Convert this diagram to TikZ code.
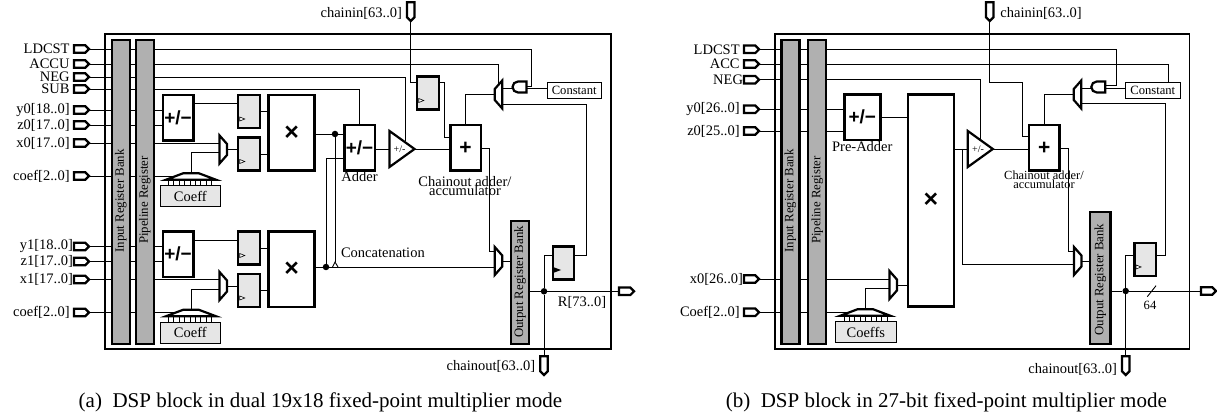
\documentclass[tikz,border=0pt]{standalone}
\usepackage{fontspec}
\setmainfont{Liberation Serif}
\setsansfont{Liberation Sans}
\usetikzlibrary{positioning, calc, shapes.geometric, shapes.symbols, shapes.misc}
\definecolor{bankgray}{HTML}{B0B0B0}
\definecolor{reggray}{HTML}{E6E6E6}
\tikzset{
  every node/.style={outer sep=0pt, inner sep=0pt},
  frameline/.style={draw, line width=1.5pt},
  wire/.style={line width=0.9pt},
  txt/.style={font=\fontsize{14.5}{14.5}\selectfont},
  port/.style={signal, signal to=east, signal from=nowhere, draw, line width=2.2pt, fill=white, minimum width=15pt, minimum height=7.5pt, anchor=east},
  portdown/.style={signal, signal to=south, signal from=nowhere, draw, line width=2.2pt, fill=white, minimum width=7.5pt, minimum height=15pt, anchor=south},
  bank/.style={draw, line width=2.4pt, fill=bankgray, minimum width=18pt},
  banktext/.style={font=\fontsize{12.8}{12.8}\selectfont, rotate=90},
  regbox/.style={draw, line width=2.2pt, fill=reggray, minimum width=21.5pt, minimum height=33pt},
  clkmark/.style={isosceles triangle, isosceles triangle stretches, inner sep=0.1pt, draw, line width=0.6pt, fill=white, minimum width=4pt, minimum height=5pt, anchor=west},
  opbox/.style={draw, line width=2.5pt, fill=white, font=\sffamily\bfseries\fontsize{19}{19}\selectfont, minimum width=30.5pt, minimum height=45.5pt},
  multbox/.style={draw, line width=2.5pt, fill=white, font=\sffamily\bfseries\fontsize{25}{25}\selectfont, minimum width=46pt},
  mux/.style={trapezium, trapezium stretches=true, inner sep=0.1pt, draw, line width=2.2pt, fill=white, trapezium left angle=52, trapezium right angle=52, minimum width=28pt, minimum height=7.5pt},
  rommark/.style={trapezium, trapezium stretches=true, inner sep=0.1pt, draw, line width=2.2pt, fill=white, trapezium left angle=42, trapezium right angle=42, minimum width=50pt, minimum height=6.5pt},
  coefbox/.style={txt, draw, line width=0.8pt, fill=reggray, minimum width=60.5pt, minimum height=21pt},
  constbox/.style={draw, line width=0.8pt, fill=white, font=\fontsize{12.6}{12.6}\selectfont, minimum width=54.5pt, minimum height=15.5pt},
  gatebox/.style={rounded rectangle, rounded rectangle right arc=none, draw, line width=2.2pt, fill=white, minimum width=14pt, minimum height=11pt},
  ampbox/.style={isosceles triangle, isosceles triangle stretches, inner sep=0.1pt, draw, line width=2.2pt, fill=white, minimum width=36pt, minimum height=25pt, anchor=apex},
  dot/.style={circle, fill=black, minimum size=6.5pt},
  captiontext/.style={font=\fontsize{21}{21}\selectfont}
}
\begin{document}
\begin{tikzpicture}[x=1pt, y=-1pt]
    \useasboundingbox (0,0) rectangle (1217,419);

    % Left block: outer frame
    \node[frameline, minimum width=506pt, minimum height=315pt] (framea) at (358,191.5) {};

    % Input pins with their labels
    \foreach \pname/\ypos/\ptext/\pgap in {ldcst/49/LDCST/4.4, accu/64/ACCU/4.4, neg/77/NEG/4.4, sub/89/SUB/4.4, yint/110/y0[18..0]/4.4, zint/125/z0[17..0]/4.4, xint/143/x0[17..0]/4.4, cft/176/coef[2..0]/4.4, yinl/246.5/y1[18..0]/1, zinl/261.5/z1[17..0]/1, xinl/279.5/x1[17..0]/1, cfl/312.5/coef[2..0]/4.4}
        \node[port] (\pname) at (89,\ypos) {} node[txt, left=\pgap pt of \pname] (\pname-lbl) {\ptext};

    % Multiplier slices
    \foreach \s/\dy in {t/0, l/136.5} {
        \node[opbox] (preadd\s) at (178,117.7+\dy) {+/−};
        \node[regbox] (regu\s) at (249,111.5+\dy) {};
        \node[regbox] (regd\s) at (249,154+\dy) {};
        \node[clkmark] (clku\s) at ($(regu\s.south west)+(1.5,-9)$) {};
        \node[clkmark] (clkd\s) at ($(regd\s.south west)+(1.5,-9)$) {};
        \node[multbox, minimum height=75.5pt] (mult\s) at (291.7,133+\dy) {×};
        \node[mux, shape border rotate=270] (mux\s) at (223.3,149.5+\dy) {};
        \node[coefbox] (coef\s) at (190.3,196+\dy) {Coeff};
        \node[rommark] (rom\s) at (191,176.5+\dy) {};
        \foreach \tk in {0,...,8}
            \draw[line width=0.6pt] ($(coef\s.north west)+(8.3+5.4*\tk,0)$) -- ++(0,-5);
        % Slice wiring
        \coordinate (regin\s) at ($(regu\s.west)+(0,-7.8)$);
        \draw[wire] (yin\s.east) -- (yin\s.east -| preadd\s.west);
        \draw[wire] (zin\s.east) -- (zin\s.east -| preadd\s.west);
        \draw[wire] (xin\s.east) -- (xin\s.east -| mux\s.west);
        \draw[wire] (cf\s.east) -- (cf\s.east -| rom\s.west);
        \draw[wire] (rom\s.north) |- ($(mux\s.west)+(0,3.2)$);
        \draw[wire] (preadd\s.east |- regin\s) -- (regin\s);
        \draw[wire] (mux\s.east) -- (mux\s.east -| regd\s.west);
        \draw[wire] (regu\s.east) -- (regu\s.east -| mult\s.west);
        \draw[wire] (regd\s.east) -- (regd\s.east -| mult\s.west);
    }

    % Adder, amplifier and chain adder
    \node[opbox] (adder) at (359.5,148) {+/−};
    \node[txt, below=1pt of adder] (adder-lbl) {Adder};
    \node[ampbox] (amp) at (414.5,149) {};
    \node[font=\fontsize{10}{10}\selectfont] (amp-lbl) at (399.5,149) {+/-};
    \node[opbox, font=\sffamily\bfseries\fontsize{21}{21}\selectfont] (plus) at (465.5,148) {+};
    \node[txt] (plus-lbl) at (465,181.7) {Chainout adder/};
    \node[txt] (plus-lbl2) at (465,190.7) {accumulator};
    \node[regbox] (chainreg) at (428,93) {};
    \node[clkmark] (clkc) at ($(chainreg.south west)+(1.5,-9)$) {};
    \node[mux, shape border rotate=90] (ctlmux) at (498.5,94.5) {};
    \node[gatebox] (andgate) at (519.5,87) {};
    \node[constbox] (const) at (574.2,90.5) {Constant};
    \node[mux, shape border rotate=270] (outmux) at (498.5,261) {};
    \node[bank, minimum height=123pt] (outbank) at (520,282.5) {};
    \node[banktext] (outbank-lbl) at (520,282) {Output Register Bank};
    \node[regbox] (fbreg) at (563.5,263) {};
    \node[isosceles triangle, isosceles triangle stretches, inner sep=0.1pt, fill=black, minimum width=6pt, minimum height=8pt, anchor=west] (clkf) at (553,270) {};
    \node[port] (rout) at (634,291.3) {};
    \node[txt] (rout-lbl) at (582,302) {R[73..0]};
    \node[portdown] (chainin) at (410.7,21) {};
    \node[txt, left=5pt of chainin, yshift=-4pt] (chainin-lbl) {chainin[63..0]};
    \node[portdown] (chainout) at (544,375) {};
    \node[txt, left=5pt of chainout, yshift=-3pt] (chainout-lbl) {chainout[63..0]};
    \node[txt, anchor=west] (concat-lbl) at (341,253) {Concatenation};
    \node[dot] (dota) at (335,134) {};
    \node[dot] (dotb) at (326,267) {};
    \node[dot] (dotr) at (544,291.3) {};

    % Control lines
    \coordinate (ldturn) at (531.7,86);
    \coordinate (negin) at (405,141);
    \coordinate (gatein) at (527,88.7);
    \draw[wire] (ldcst.east) -| (ldturn) -- (ldturn -| andgate.east);
    \draw[wire] (accu.east) -| (ctlmux.north);
    \draw[wire] (neg.east) -| (negin);
    \draw[wire] (sub.east) -| (adder.north);
    \draw[wire] (const.west |- gatein) -- (gatein);
    \draw[wire] (andgate.west |- gatein) -- (gatein -| ctlmux.east);

    % Data path
    \coordinate (addin) at (344,158.3);
    \coordinate (hop) at (335,262);
    \coordinate (chainin-turn) at (416.7,82.7);
    \coordinate (chain-drop) at (444,137.3);
    \coordinate (sumturn) at (489.3,251.7);
    \coordinate (fbin) at (552,255);
    \coordinate (fbturn) at (586,104);
    \draw[wire] (multt.east |- dota) -- (dota) -- (dota -| adder.west);
    \draw[wire] (multl.east |- dotb) -- (dotb) -- (dotb -| outmux.west);
    \draw[wire] (dotb) |- (addin);
    \draw[wire] (dota) -- (hop);
    \draw[wire] (332.5,267) -- (hop) -- (338,267);
    \draw[wire] (amp.west -| adder.east) -- (amp.west);
    \draw[wire] (amp.apex) -- (amp.apex -| plus.west);
    \draw[wire] (chainin.south) |- (chainin-turn);
    \draw[wire] (chainin-turn -| chainreg.east) -| (chain-drop) -- (chain-drop -| plus.west);
    \draw[wire] (plus.north) |- (ctlmux.west);
    \draw[wire] (plus.east) -| (sumturn) -- (sumturn -| outmux.west);
    \draw[wire] (outmux.east) -- (outmux.east -| outbank.west);
    \draw[wire] (outbank.east |- dotr) -- (dotr) -- (rout.west);
    \draw[wire] (dotr) -- (chainout.north);
    \draw[wire] (dotr) |- (fbin);
    \draw[wire] (fbin -| fbreg.east) -| (fbturn) -- (fbturn -| ctlmux.east);

    % Register banks go on top of the wires
    \node[bank, minimum height=304pt] (inbank) at (120.7,192) {};
    \node[bank, minimum height=304pt] (pipebank) at (144.7,192) {};
    \node[banktext] (inbank-lbl) at (120.7,201) {Input Register Bank};
    \node[banktext] (pipebank-lbl) at (144.7,200) {Pipeline Register};
    \node[captiontext] (caption-a) at (320.5,402) {(a)\enspace DSP block in dual 19x18 fixed-point multiplier mode};

    % Right block: outer frame
    \node[frameline, minimum width=414.3pt, minimum height=315pt] (frameb) at (982.2,191.5) {};

    % Input pins with their labels
    \foreach \pname/\ypos/\ptext/\pgap in {bldcst/49.3/LDCST/4.4, bacc/64/ACC/4.4, bneg/79.7/NEG/1, byin/109.3/y0[26..0]/4.4, bzin/131/z0[25..0]/4.4, bxin/279/x0[26..0]/1, bcf/312.3/Coef[2..0]/4.4}
        \node[port] (\pname) at (759,\ypos) {} node[txt, left=\pgap pt of \pname] (\pname-lbl) {\ptext};

    % Multiplier path
    \node[opbox, minimum width=36pt] (bpreadd) at (862.3,117.2) {+/−};
    \node[txt, below=1pt of bpreadd] (bpreadd-lbl) {Pre-Adder};
    \node[multbox, minimum height=212.4pt] (bmult) at (930.8,200.5) {×};
    \node[mux, shape border rotate=270] (bmux) at (893.2,285) {};
    \node[coefbox] (bcoef) at (865.8,332.2) {Coeffs};
    \node[rommark] (brom) at (865.3,312.5) {};
    \foreach \tk in {0,...,8}
        \draw[line width=0.6pt] ($(bcoef.north west)+(8.3+5.4*\tk,0)$) -- ++(0,-5);
    \node[ampbox] (bamp) at (992.8,149) {};
    \node[font=\fontsize{10}{10}\selectfont] (bamp-lbl) at (978,149) {+/-};
    \node[opbox, font=\sffamily\bfseries\fontsize{21}{21}\selectfont] (bplus) at (1044.2,148) {+};
    \node[font=\fontsize{12.4}{12.4}\selectfont] (bplus-lbl) at (1044,175) {Chainout adder/};
    \node[font=\fontsize{12.4}{12.4}\selectfont] (bplus-lbl2) at (1044,184.3) {accumulator};
    \node[mux, shape border rotate=90] (bctlmux) at (1077.5,94.5) {};
    \node[gatebox] (bandgate) at (1098.3,87) {};
    \node[constbox] (bconst) at (1152.8,90.5) {Constant};
    \node[mux, shape border rotate=270] (boutmux) at (1077.7,261) {};
    \node[bank, minimum height=132pt, minimum width=20.5pt] (boutbank) at (1100.3,277.8) {};
    \node[banktext] (boutbank-lbl) at (1100.3,279.6) {Output Register Bank};
    \node[regbox] (bfbreg) at (1145.3,259.5) {};
    \node[clkmark] (bclkf) at ($(bfbreg.south west)+(1.5,-9)$) {};
    \node[port] (brout) at (1216,291) {};
    \node[font=\fontsize{12.6}{12.6}\selectfont] (brout-lbl) at (1150,305) {64};
    \node[portdown] (bchainin) at (989.7,21) {};
    \node[txt, right=7pt of bchainin, yshift=-4pt] (bchainin-lbl) {chainin[63..0]};
    \node[portdown] (bchainout) at (1125.7,375) {};
    \node[txt, left=5pt of bchainout, yshift=-6pt] (bchainout-lbl) {chainout[63..0]};
    \node[dot] (bdotr) at (1125.7,291) {};

    % Control lines
    \coordinate (bldturn) at (1116.7,85.3);
    \coordinate (bgatein) at (1105.7,88.7);
    \coordinate (bconstin) at (1168.3,82.7);
    \draw[wire] (bldcst.east) -| (bldturn) -- (bldturn -| bandgate.east);
    \draw[wire] (bacc.east) -| (bconstin);
    \draw[wire] (bneg.east) -| (bamp.left side);
    \draw[wire] (bconst.west |- bgatein) -- (bgatein);
    \draw[wire] (bandgate.west |- bgatein) -- (bgatein -| bctlmux.east);

    % Data path
    \coordinate (bmultout) at (954,149);
    \coordinate (bchainturn) at (1022.7,82);
    \coordinate (bchaindrop) at (1022.7,136.7);
    \coordinate (bbypass) at (962.3,264);
    \coordinate (bsumturn) at (1068.3,251.7);
    \coordinate (bfbin) at (1134,255);
    \coordinate (bfbturn) at (1165,103.7);
    \draw[wire] (byin.east) -- (byin.east -| bpreadd.west);
    \draw[wire] (bzin.east) -- (bzin.east -| bpreadd.west);
    \draw[wire] (bxin.east) -- (bxin.east -| bmux.west);
    \draw[wire] (bcf.east) -- (bcf.east -| brom.west);
    \draw[wire] (brom.north) |- ($(bmux.west)+(0,3.2)$);
    \draw[wire] (bpreadd.east) -- (bpreadd.east -| bmult.west);
    \draw[wire] (bmux.east) -- (bmux.east -| bmult.west);
    \draw[wire] (bmultout) -- (bamp.west);
    \draw[wire] (bmultout -| bbypass) -- (bbypass) -- (bbypass -| boutmux.west);
    \draw[wire] (bamp.apex) -- (bamp.apex -| bplus.west);
    \draw[wire] (bchainin.south) |- (bchainturn) -- (bchaindrop) -- (bchaindrop -| bplus.west);
    \draw[wire] (bplus.north) |- (bctlmux.west);
    \draw[wire] (bplus.east) -| (bsumturn) -- (bsumturn -| boutmux.west);
    \draw[wire] (boutmux.east) -- (boutmux.east -| boutbank.west);
    \draw[wire] (boutbank.east |- bdotr) -- (bdotr) -- (brout.west);
    \draw[wire] (bdotr) -- (bchainout.north);
    \draw[wire] (bdotr) |- (bfbin);
    \draw[wire] (bfbin -| bfbreg.east) -| (bfbturn) -- (bfbturn -| bctlmux.east);
    \draw[wire] (1147.3,296.7) -- (1156,285.7);

    % Register banks go on top of the wires
    \node[bank, minimum height=304pt] (binbank) at (790.3,192) {};
    \node[bank, minimum height=304pt] (bpipebank) at (817.2,192) {};
    \node[banktext] (binbank-lbl) at (790.3,201) {Input Register Bank};
    \node[banktext] (bpipebank-lbl) at (817.2,200) {Pipeline Register};
    \node[captiontext] (caption-b) at (946.3,402) {(b)\enspace DSP block in 27-bit fixed-point multiplier mode};
\end{tikzpicture}
\end{document}
